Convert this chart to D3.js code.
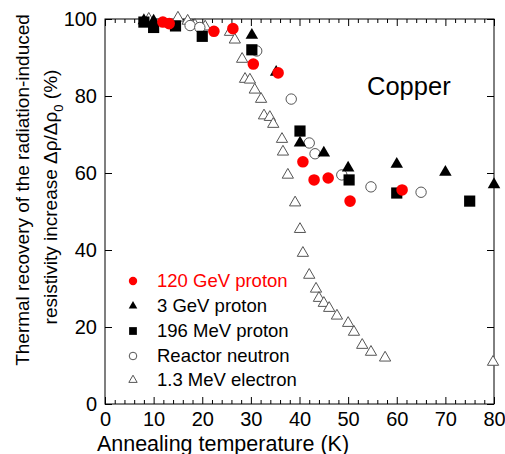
<!DOCTYPE html>
<html>
<head>
<meta charset="utf-8">
<script src="https://cdn.jsdelivr.net/npm/d3@7"></script>
<style>
  body { margin: 0; background: #fff; }
  svg text { font-family: "Liberation Sans", Arial, Helvetica, sans-serif; }
</style>
</head>
<body>
<div id="chart"></div>
<script>
// data: annealing temperature (K) and recovery (%)
var p120Temp  = [11.9, 13.2, 22.4, 26.3, 30.5, 35.6, 40.7, 43.0, 45.9, 50.4, 61.1];
var p120Value = [99.2, 98.8, 96.8, 97.5, 88.3, 86.0, 62.9, 58.2, 58.7, 52.7, 55.6];

var p3Temp  = [8.0, 10.0, 30.2, 35.2, 40.1, 45.0, 50.0, 60.0, 70.0, 80.0];
var p3Value = [99.6, 99.5, 95.8, 86.2, 67.8, 65.2, 61.3, 62.3, 60.2, 57.0];

var p196Temp  = [8.0, 10.0, 14.5, 20.0, 30.2, 40.1, 50.2, 60.0, 75.0];
var p196Value = [99.2, 97.8, 98.2, 95.5, 92.0, 70.9, 58.2, 54.8, 52.7];

var neutronTemp  = [17.5, 19.5, 31.2, 38.3, 42.0, 43.2, 48.7, 54.7, 65.0];
var neutronValue = [98.3, 97.8, 91.7, 79.2, 67.8, 65.0, 59.5, 56.4, 55.0];

var electronTemp  = [9.0, 15.0, 17.0, 18.5, 20.6, 25.7, 26.7, 28.2, 28.8, 29.8, 30.8, 32.1, 32.7, 33.9, 34.6,
                     36.4, 36.6, 37.6, 39.1, 40.1, 40.7, 42.0, 43.4, 44.0, 45.0, 46.1, 47.7, 50.0, 51.2, 52.9,
                     54.7, 57.6, 79.8];
var electronValue = [100, 100.3, 99.5, 98.4, 98.0, 96.6, 94.6, 89.6, 84.4, 84.2, 81.6, 79.2, 74.9, 74.5, 72.7,
                     68.8, 65.5, 59.5, 52.3, 45.4, 39.2, 33.5, 29.9, 27.5, 26.2, 24.9, 22.9, 21.0, 18.7, 15.3,
                     13.5, 12.0, 10.9];

var seriesNames = ["120 GeV proton", "3 GeV proton", "196 MeV proton", "Reactor neutron", "1.3 MeV electron"];
var xMajorTicks = [0, 10, 20, 30, 40, 50, 60, 70, 80];
var yMajorTicks = [0, 20, 40, 60, 80, 100];

(function() {
    var W = 505, H = 454;
    var plotL = 105, plotR = 494, plotT = 19, plotB = 404;

    var svg = d3.select("#chart").append("svg")
        .attr("width", W)
        .attr("height", H);

    var x = d3.scaleLinear().domain([0, 80]).range([plotL, plotR]);
    var y = d3.scaleLinear().domain([0, 100]).range([plotB, plotT]);

    // frame
    svg.append("rect")
        .attr("x", plotL).attr("y", plotT)
        .attr("width", plotR - plotL).attr("height", plotB - plotT)
        .attr("fill", "none").attr("stroke", "#000").attr("stroke-width", 1);

    var xMinor = d3.range(0, 81, 2).filter(function(d) { return d % 10 !== 0; });

    function styleAxis(g) {
        g.select(".domain").remove();
        g.selectAll("line").attr("stroke", "#000");
        g.selectAll("text").attr("fill", "#000").style("font-size", "20px");
    }

    // bottom axis with labels
    svg.append("g")
        .attr("transform", "translate(0," + plotB + ")")
        .call(d3.axisBottom(x).tickValues(xMajorTicks).tickSize(-7).tickPadding(8))
        .call(styleAxis);
    svg.append("g")
        .attr("transform", "translate(0," + plotB + ")")
        .call(d3.axisBottom(x).tickValues(xMinor).tickSize(-4).tickFormat(""))
        .call(styleAxis);

    // top axis
    svg.append("g")
        .attr("transform", "translate(0," + plotT + ")")
        .call(d3.axisTop(x).tickValues(xMajorTicks).tickSize(-7).tickFormat(""))
        .call(styleAxis);
    svg.append("g")
        .attr("transform", "translate(0," + plotT + ")")
        .call(d3.axisTop(x).tickValues(xMinor).tickSize(-4).tickFormat(""))
        .call(styleAxis);

    // left axis
    svg.append("g")
        .attr("transform", "translate(" + plotL + ",0)")
        .call(d3.axisLeft(y).tickValues(yMajorTicks).tickSize(-7).tickPadding(8))
        .call(styleAxis);

    // right axis
    svg.append("g")
        .attr("transform", "translate(" + plotR + ",0)")
        .call(d3.axisRight(y).tickValues(yMajorTicks).tickSize(-7).tickFormat(""))
        .call(styleAxis);

    // axis titles
    svg.append("text")
        .attr("x", 223).attr("y", 451)
        .attr("text-anchor", "middle")
        .style("font-size", "21.5px")
        .text("Annealing temperature (K)");

    svg.append("text")
        .attr("transform", "translate(29,190) rotate(-90)")
        .attr("text-anchor", "middle")
        .style("font-size", "19px")
        .text("Thermal recovery of the radiation-induced");

    var yt2 = svg.append("text")
        .attr("transform", "translate(57,197) rotate(-90)")
        .attr("text-anchor", "middle")
        .style("font-size", "19px");
    yt2.append("tspan").text("resistivity increase \u0394\u03c1/\u0394\u03c1");
    yt2.append("tspan").attr("dy", 6).style("font-size", "13px").text("0");
    yt2.append("tspan").attr("dy", -6).text(" (%)");

    svg.append("text")
        .attr("x", 367).attr("y", 95)
        .style("font-size", "25.5px")
        .text("Copper");

    // series
    var series = [
        {name: seriesNames[0], t: p120Temp, v: p120Value, type: d3.symbolCircle, size: 105, fill: "#ff0000", stroke: "none", lsize: 55},
        {name: seriesNames[1], t: p3Temp, v: p3Value, type: d3.symbolTriangle, size: 68, fill: "#000", stroke: "none", lsize: 32},
        {name: seriesNames[2], t: p196Temp, v: p196Value, type: d3.symbolSquare, size: 125, fill: "#000", stroke: "none", lsize: 60},
        {name: seriesNames[3], t: neutronTemp, v: neutronValue, type: d3.symbolCircle, size: 85, fill: "#fff", stroke: "#555", lsize: 45},
        {name: seriesNames[4], t: electronTemp, v: electronValue, type: d3.symbolTriangle, size: 55, fill: "#fff", stroke: "#555", lsize: 30}
    ];

    // draw electrons first so filled markers sit on top
    var drawOrder = [4, 3, 2, 1, 0];
    drawOrder.forEach(function(i) {
        var s = series[i];
        svg.append("g")
            .selectAll("path")
            .data(d3.range(s.t.length))
            .enter()
            .append("path")
            .attr("d", d3.symbol().type(s.type).size(s.size))
            .attr("transform", function(j) { return "translate(" + x(s.t[j]) + "," + y(s.v[j]) + ")"; })
            .attr("fill", s.fill)
            .attr("stroke", s.stroke)
            .attr("stroke-width", 1);
    });

    // legend
    var legend = svg.append("g");
    var rowY = [281, 306, 331, 356, 380];
    series.forEach(function(s, i) {
        legend.append("path")
            .attr("d", d3.symbol().type(s.type).size(s.lsize))
            .attr("transform", "translate(133," + rowY[i] + ")")
            .attr("fill", s.fill)
            .attr("stroke", s.stroke)
            .attr("stroke-width", 1);
        legend.append("text")
            .attr("x", 157).attr("y", rowY[i] + 6)
            .style("font-size", "18.5px")
            .attr("fill", i === 0 ? "#ff0000" : "#000")
            .text(s.name);
    });
})();
</script>
</body>
</html>
